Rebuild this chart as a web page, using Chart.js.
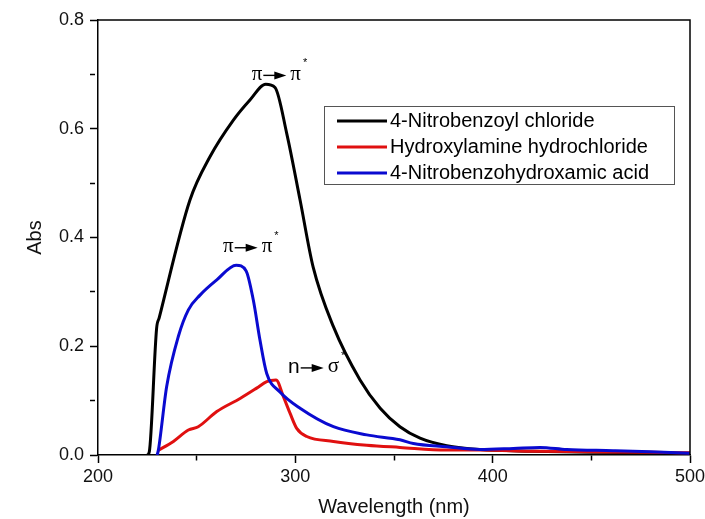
<!DOCTYPE html>
<html>
<head>
<meta charset="utf-8">
<script src="https://cdn.jsdelivr.net/npm/chart.js@4"></script>
<style>
    html, body { margin: 0; padding: 0; background: #fff; }
</style>
</head>
<body>
<canvas id="myChart" width="705" height="519"></canvas>
<script>
// 4-Nitrobenzoyl chloride
const nmChloride  = [225, 226, 229.7, 231, 246.6, 256.8, 268.6, 277, 285, 289.7, 295.6, 302.4, 309, 319.3, 332.8, 343, 353, 363.2, 376.7, 393.6, 420, 450, 480, 500];
const absChloride = [0, 0.006, 0.233, 0.252, 0.469, 0.549, 0.616, 0.653, 0.682, 0.676, 0.592, 0.469, 0.346, 0.236, 0.138, 0.086, 0.052, 0.031, 0.017, 0.010, 0.007, 0.005, 0.004, 0.003];

// Hydroxylamine hydrochloride
const nmHydroxyl  = [230.3, 238.2, 245.8, 250.8, 260.2, 272, 280.4, 285.5, 290.2, 294, 297.3, 300.7, 305.8, 319.3, 336.2, 353, 376.7, 393.6, 420, 450, 480, 500];
const absHydroxyl = [0.008, 0.025, 0.046, 0.052, 0.080, 0.104, 0.123, 0.135, 0.138, 0.107, 0.077, 0.049, 0.034, 0.025, 0.018, 0.014, 0.009, 0.009, 0.007, 0.006, 0.005, 0.004];

// 4-Nitrobenzohydroxamic acid
const nmAcid  = [230, 230.6, 234.8, 240.7, 245.8, 251.7, 260.2, 270, 275, 278.7, 282.1, 285.5, 292.2, 302.4, 319.3, 336.2, 353, 359.8, 376.7, 393.6, 410.5, 424, 437.5, 461, 480, 500];
const absAcid = [0, 0.009, 0.126, 0.218, 0.267, 0.294, 0.322, 0.349, 0.339, 0.285, 0.211, 0.150, 0.116, 0.086, 0.052, 0.037, 0.028, 0.021, 0.015, 0.010, 0.012, 0.014, 0.010, 0.008, 0.006, 0.003];

const seriesNames = ['4-Nitrobenzoyl chloride', 'Hydroxylamine hydrochloride', '4-Nitrobenzohydroxamic acid'];
const seriesColors = ['#000000', '#e01010', '#0a0ad0'];

// transition labels: left edge (nm), centre (Abs)
const notes = [
    { nm: 277.9, abs: 0.700, from: 'π', to: 'π' },
    { nm: 263.4, abs: 0.383, from: 'π', to: 'π' },
    { nm: 296.3, abs: 0.162, from: 'n', to: 'σ' }
];

const toPoints = (xs, ys) => xs.map((x, i) => ({ x: x, y: ys[i] }));

const frame = {
    id: 'frame',
    afterDraw(chart) {
        const c = chart.ctx;
        const a = chart.chartArea;
        c.save();
        c.strokeStyle = '#000';
        c.lineWidth = 1.5;
        c.beginPath();
        c.moveTo(a.left, a.top);
        c.lineTo(a.right, a.top);
        c.lineTo(a.right, a.bottom);
        c.stroke();
        c.restore();
    }
};

const transitions = {
    id: 'transitions',
    afterDatasetsDraw(chart) {
        const c = chart.ctx;
        const xs = chart.scales.x;
        const ys = chart.scales.y;
        c.save();
        c.fillStyle = '#000';
        c.strokeStyle = '#000';
        c.textBaseline = 'middle';
        c.textAlign = 'left';
        notes.forEach(n => {
            let px = xs.getPixelForValue(n.nm);
            const py = ys.getPixelForValue(n.abs);
            c.font = n.from === 'n' ? '21px "Liberation Sans"' : '21px "Liberation Serif"';
            c.fillText(n.from, px, py);
            px += c.measureText(n.from).width + 1;
            // arrow
            c.lineWidth = 1.4;
            c.beginPath();
            c.moveTo(px, py + 1);
            c.lineTo(px + 14, py + 1);
            c.stroke();
            c.beginPath();
            c.moveTo(px + 11, py - 3);
            c.lineTo(px + 23, py + 1);
            c.lineTo(px + 11, py + 5);
            c.closePath();
            c.fill();
            px += 27;
            c.font = '21px "Liberation Serif"';
            c.fillText(n.to, px, py);
            px += c.measureText(n.to).width + 2;
            c.font = '11px "Liberation Sans"';
            c.fillText('*', px, py - 11);
        });
        c.restore();
    }
};

const legendBox = {
    id: 'legendBox',
    afterDraw(chart) {
        const c = chart.ctx;
        const a = chart.chartArea;
        const bx = a.right - 366, by = a.top + 86, bw = 350, bh = 78;
        c.save();
        c.strokeStyle = '#555';
        c.lineWidth = 1;
        c.strokeRect(bx + 0.5, by + 0.5, bw, bh);
        c.font = '20px "Liberation Sans"';
        c.textBaseline = 'middle';
        c.fillStyle = '#000';
        seriesNames.forEach((name, i) => {
            const y = by + 15 + i * 26;
            c.strokeStyle = seriesColors[i];
            c.lineWidth = 3;
            c.beginPath();
            c.moveTo(bx + 13, y);
            c.lineTo(bx + 63, y);
            c.stroke();
            c.fillText(name, bx + 66, y);
        });
        c.restore();
    }
};

const ctx = document.getElementById('myChart').getContext('2d');
const tickFont = { family: 'Liberation Sans', size: 18 };

new Chart(ctx, {
    type: 'line',
    data: {
        datasets: [
            { label: seriesNames[0], data: toPoints(nmChloride, absChloride), borderColor: seriesColors[0], order: 3 },
            { label: seriesNames[1], data: toPoints(nmHydroxyl, absHydroxyl), borderColor: seriesColors[1], order: 2 },
            { label: seriesNames[2], data: toPoints(nmAcid, absAcid), borderColor: seriesColors[2], order: 1 }
        ]
    },
    options: {
        responsive: false,
        animation: false,
        devicePixelRatio: 1,
        layout: { padding: { top: 20, right: 15, bottom: 0, left: 0 } },
        elements: {
            line: { borderWidth: 3, cubicInterpolationMode: 'monotone', borderJoinStyle: 'round' },
            point: { radius: 0 }
        },
        plugins: {
            legend: { display: false },
            tooltip: { enabled: false }
        },
        scales: {
            x: {
                type: 'linear',
                min: 200,
                max: 500,
                afterFit: s => { s.height = 64; s.paddingLeft = 0; s.paddingRight = 0; },
                border: { display: true, color: '#000', width: 1.5 },
                grid: {
                    drawOnChartArea: false,
                    tickLength: 8,
                    tickColor: '#000',
                    tickWidth: 1.5,
                    tickBorderDash: c => (c.tick && c.tick.value % 100 !== 0) ? [5, 100] : []
                },
                ticks: {
                    stepSize: 50,
                    color: '#111',
                    font: tickFont,
                    padding: 3,
                    maxRotation: 0,
                    autoSkip: false,
                    callback: v => (v % 100 === 0 ? String(v) : '')
                },
                title: {
                    display: true,
                    text: 'Wavelength (nm)',
                    color: '#111',
                    font: { family: 'Liberation Sans', size: 20 },
                    padding: { top: 4, bottom: 0 }
                }
            },
            y: {
                min: 0,
                max: 0.8,
                afterFit: s => { s.width = 98; s.paddingTop = 0; s.paddingBottom = 0; },
                border: { display: true, color: '#000', width: 1.5 },
                grid: {
                    drawOnChartArea: false,
                    tickLength: 8,
                    tickColor: '#000',
                    tickWidth: 1.5,
                    tickBorderDash: c => (c.tick && Math.round(c.tick.value * 10) % 2 !== 0) ? [5, 100] : []
                },
                ticks: {
                    stepSize: 0.1,
                    color: '#111',
                    font: tickFont,
                    padding: 6,
                    autoSkip: false,
                    callback: v => (Math.round(v * 10) % 2 === 0 ? v.toFixed(1) : '')
                },
                title: {
                    display: true,
                    text: 'Abs',
                    color: '#111',
                    font: { family: 'Liberation Sans', size: 20 },
                    padding: { top: 23, bottom: 0 }
                }
            }
        }
    },
    plugins: [frame, transitions, legendBox]
});
</script>
</body>
</html>
